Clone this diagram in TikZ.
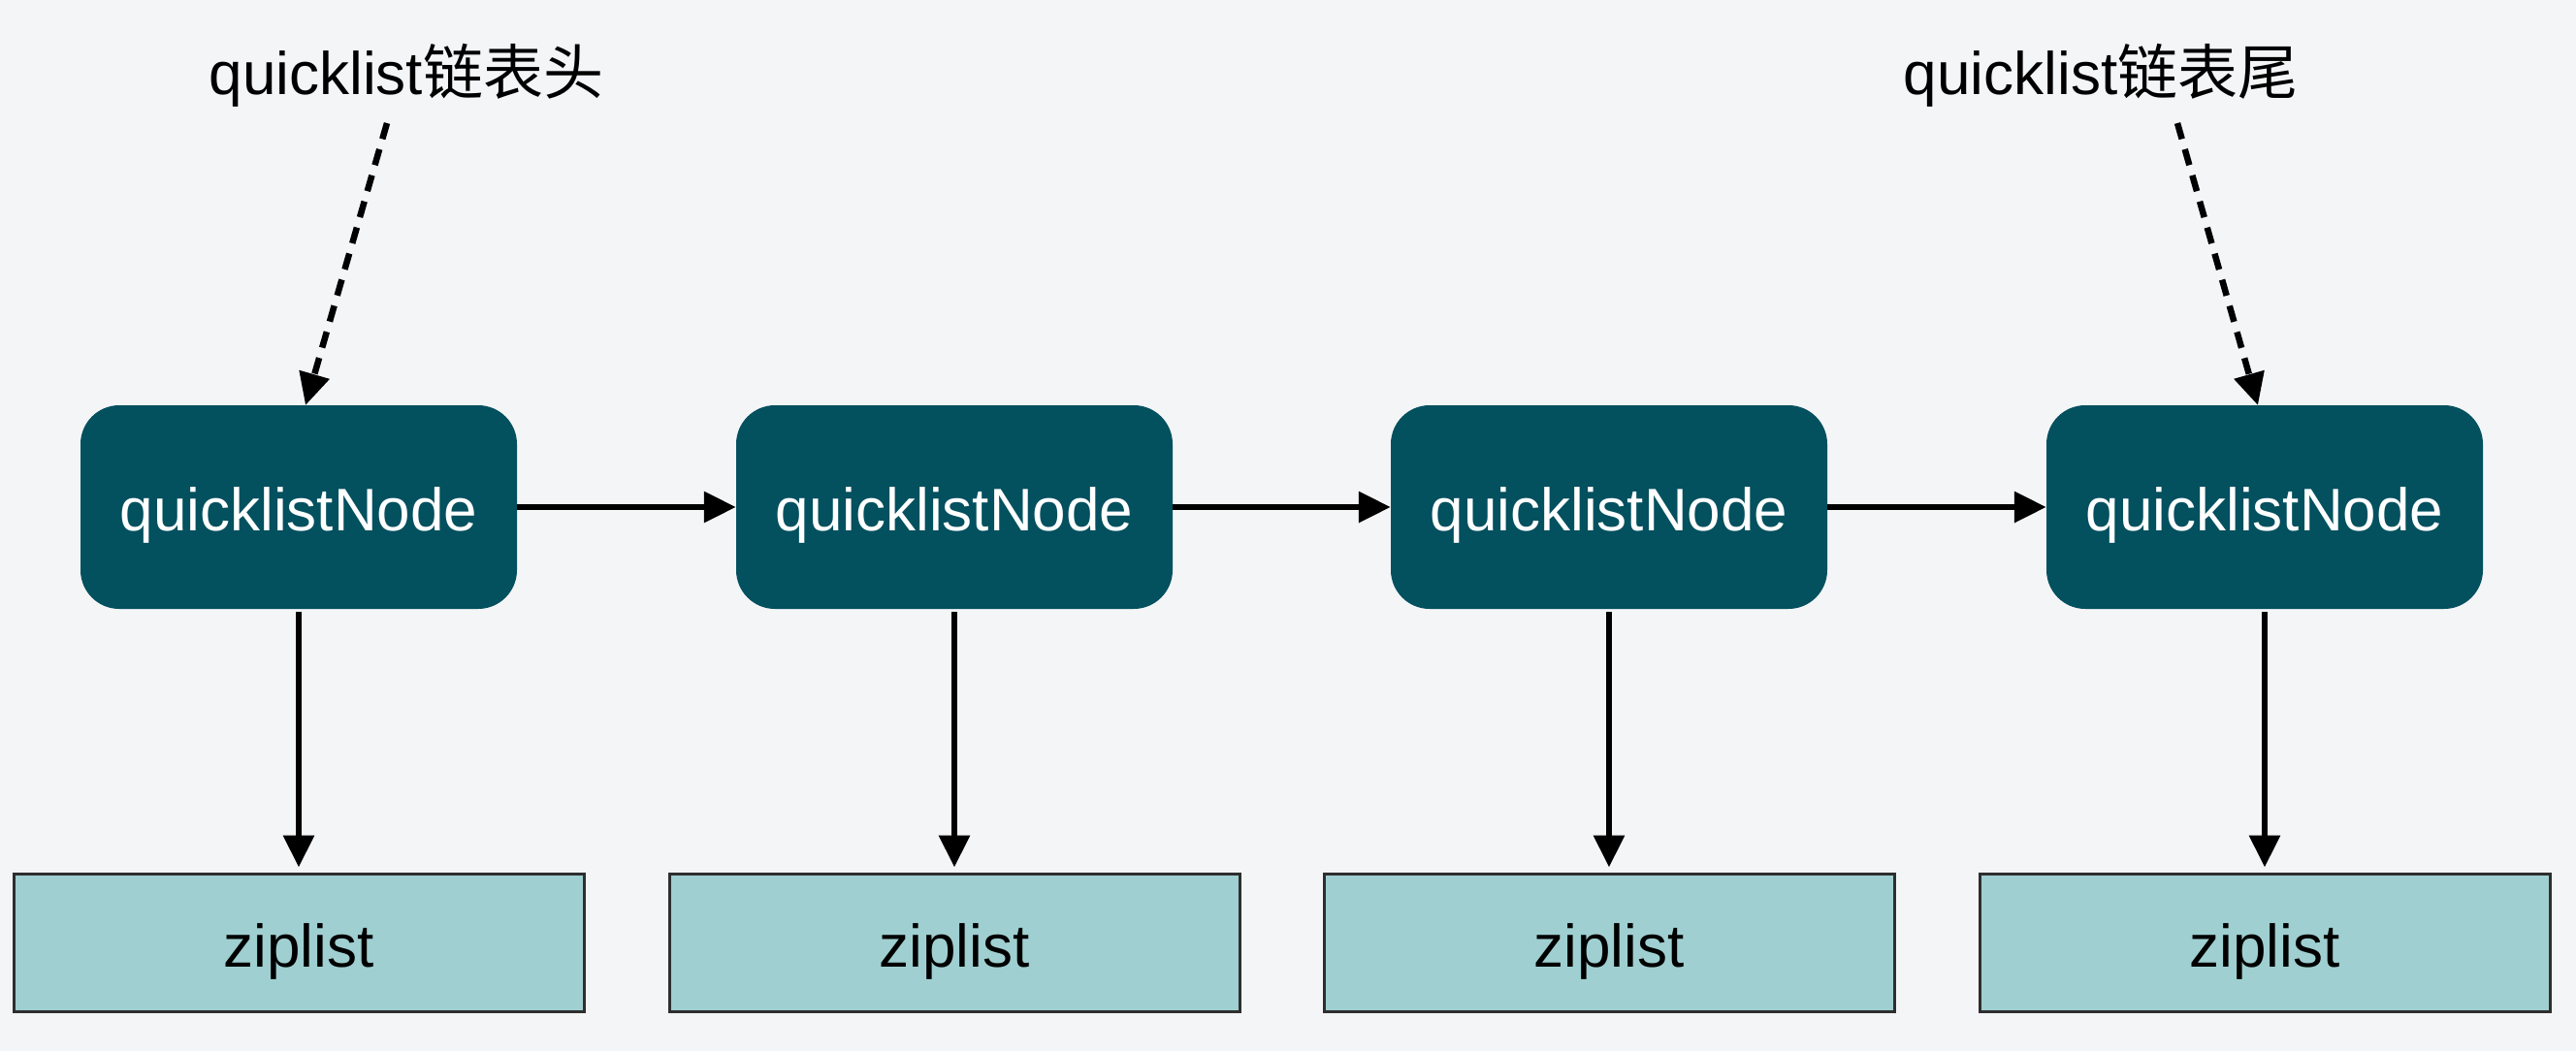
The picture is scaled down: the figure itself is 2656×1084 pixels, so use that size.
\documentclass[tikz,border=0pt]{standalone}
\usepackage{fontspec}
\setmainfont{Liberation Sans}
\newfontfamily\cjk{Noto Sans CJK SC}
\usetikzlibrary{arrows.meta}
\definecolor{bgc}{HTML}{F3F5F7}
\definecolor{qnfill}{HTML}{03505F}
\definecolor{zlfill}{HTML}{9FCFD1}
\definecolor{zlline}{HTML}{2E2E2E}
\newcommand{\lowered}[2]{\raisebox{-#1pt}[0pt][0pt]{#2}}
\tikzset{
  qnode/.style={fill=qnfill, rounded corners=40pt, minimum width=450pt, minimum height=210pt,
    text=white, inner sep=0pt, font=\fontsize{62}{74}\selectfont},
  zlnode/.style={fill=zlfill, draw=zlline, line width=3pt, minimum width=588pt, minimum height=142pt,
    inner sep=0pt, font=\fontsize{62}{74}\selectfont},
  lbl/.style={inner sep=0pt, font=\fontsize{62}{74}\selectfont},
  solidarrow/.style={line width=6.5pt, -{Triangle[length=33pt,width=31pt]}},
  dasharrow/.style={line width=6.5pt, dash pattern=on 17pt off 11pt, -{Triangle[length=33pt,width=31pt]}}
}
\begin{document}
\begin{tikzpicture}[x=1pt,y=-1pt]
\fill[bgc] (0,0) rectangle (2656,1084);
\useasboundingbox (0,0) rectangle (2656,1084);
\foreach \i/\x in {1/308,2/984,3/1659,4/2335}{
  \node[qnode] (qn\i) at (\x,523) {\lowered{24}{quicklistNode}};
  \node[zlnode] (zl\i) at (\x,972) {\lowered{25}{ziplist}};
  \draw[solidarrow, shorten <=3pt, shorten >=5pt] (qn\i.south) -- (zl\i.north);
}
\draw[solidarrow] (qn1.east) -- (qn2.west);
\draw[solidarrow] (qn2.east) -- (qn3.west);
\draw[solidarrow] (qn3.east) -- (qn4.west);
\node[lbl] (lab1) at (419,78) {quicklist{\cjk 链表头}};
\node[lbl] (lab2) at (2166,78) {quicklist{\cjk 链表尾}};
\coordinate (h1s) at (399,127);
\coordinate (h1e) at (315,418);
\coordinate (t1s) at (2245,127);
\coordinate (t1e) at (2328,418);
\draw[dasharrow] (h1s) -- (h1e);
\draw[dasharrow] (t1s) -- (t1e);
\end{tikzpicture}
\end{document}
